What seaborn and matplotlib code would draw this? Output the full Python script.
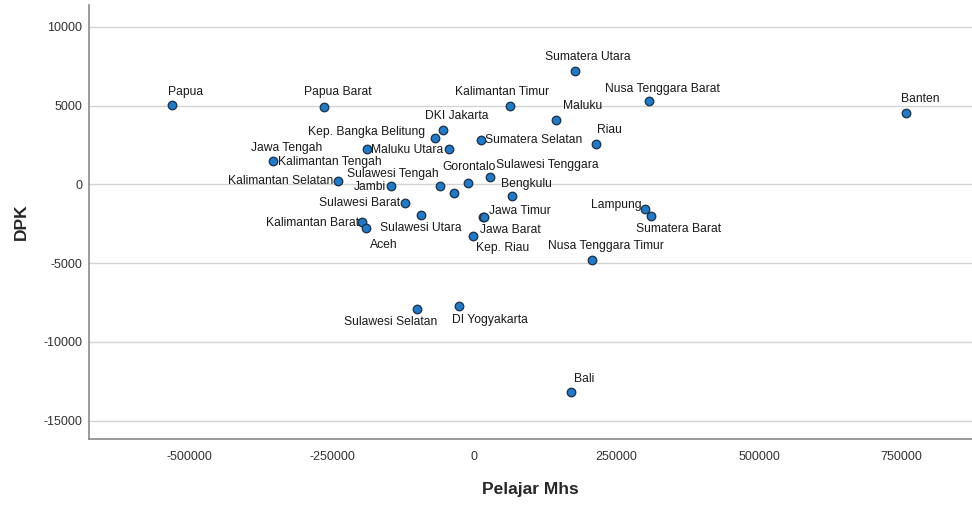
import matplotlib
matplotlib.use("Agg")
import matplotlib.pyplot as plt
import seaborn as sns
import pandas as pd

# Provinces with their Pelajar/Mahasiswa and DPK values
provinces = [
    "Papua", "Papua Barat", "Jawa Tengah", "Kalimantan Selatan", "Kalimantan Tengah",
    "DKI Jakarta", "Kep. Bangka Belitung", "Maluku Utara", "Jambi", "Sulawesi Tengah",
    "Kalimantan Utara", "Gorontalo", "Sulawesi Tenggara", "Bengkulu", "Sumatera Selatan",
    "Sulawesi Barat", "Sulawesi Utara", "Kalimantan Barat", "Aceh", "Jawa Timur",
    "Jawa Barat", "Kep. Riau", "Sumatera Utara", "Kalimantan Timur", "Nusa Tenggara Barat",
    "Maluku", "Riau", "Lampung", "Sumatera Barat", "Nusa Tenggara Timur",
    "Banten", "Sulawesi Selatan", "DI Yogyakarta", "Bali",
]
pelajar_mhs = [
    -531000, -264800, -353000, -238800, -189000,
    -54400, -69000, -44400, -146800, -60200,
    -35100, -11600, 28400, 65300, 11200,
    -121200, -94100, -197200, -190700, 15800,
    17000, -1800, 176800, 63200, 306800,
    143500, 213200, 300300, 310300, 207200,
    757500, -100100, -26900, 169300,
]
dpk = [
    5030, 4905, 1478, 209, 2227,
    3445, 2957, 2240, -89, -108,
    -571, 102, 463, -711, 2792,
    -1206, -1948, -2373, -2792, -2043,
    -2090, -3261, 7189, 4987, 5285,
    4080, 2557, -1567, -2011, -4803,
    4543, -7931, -7703, -13159,
]

# Label placement: (dx, dy) in pixels from the marker, horizontal alignment
label_pos = {
    "Papua": (14, 13, "center"),
    "Papua Barat": (14, 15, "center"),
    "Jawa Tengah": (13, 13, "center"),
    "Kalimantan Selatan": (-5, 0, "right"),
    "Kalimantan Tengah": (-37, -13, "center"),
    "DKI Jakarta": (13, 14, "center"),
    "Kep. Bangka Belitung": (-10, 6, "right"),
    "Maluku Utara": (-6, -1, "right"),
    "Jambi": (-5, -1, "right"),
    "Sulawesi Tengah": (-1, 12, "right"),
    "Gorontalo": (1, 16, "center"),
    "Sulawesi Tenggara": (6, 12, "left"),
    "Bengkulu": (15, 12, "center"),
    "Sumatera Selatan": (4, 0, "left"),
    "Sulawesi Barat": (-5, 0, "right"),
    "Sulawesi Utara": (0, -13, "center"),
    "Kalimantan Barat": (-3, -1, "right"),
    "Aceh": (18, -17, "center"),
    "Jawa Timur": (6, 6, "left"),
    "Jawa Barat": (-4, -13, "left"),
    "Kep. Riau": (3, -12, "left"),
    "Sumatera Utara": (13, 14, "center"),
    "Kalimantan Timur": (-8, 14, "center"),
    "Nusa Tenggara Barat": (13, 12, "center"),
    "Maluku": (7, 14, "left"),
    "Riau": (14, 14, "center"),
    "Lampung": (-4, 4, "right"),
    "Sumatera Barat": (28, -13, "center"),
    "Nusa Tenggara Timur": (14, 14, "center"),
    "Banten": (15, 14, "center"),
    "Sulawesi Selatan": (-27, -13, "center"),
    "DI Yogyakarta": (31, -14, "center"),
    "Bali": (13, 13, "center"),
}

y_ticks = [10000, 5000, 0, -5000, -10000, -15000]
x_ticks = [-500000, -250000, 0, 250000, 500000, 750000]

df = pd.DataFrame({"Provinsi": provinces, "Pelajar Mhs": pelajar_mhs, "DPK": dpk})

sns.set_style("white")
plt.rcParams["font.family"] = ["Liberation Sans", "DejaVu Sans"]

fig = plt.figure(figsize=(9.72, 5.05), dpi=100)
ax = fig.add_axes([89 / 972, 1 - 439 / 505, (972 - 89) / 972, (439 - 5) / 505])

sns.scatterplot(
    data=df, x="Pelajar Mhs", y="DPK", ax=ax,
    s=38, color="#2279c4", edgecolor="#1b2f4a", linewidth=0.9, zorder=3,
)

for name, xv, yv in zip(provinces, pelajar_mhs, dpk):
    if name not in label_pos:
        continue
    dx, dy, ha = label_pos[name]
    ax.annotate(
        name, (xv, yv), xytext=(dx, dy), textcoords="offset pixels",
        ha=ha, va="center", fontsize=8.7, color="#1a1a1a", zorder=4,
    )

ax.set_xlim(-676600, 873900)
ax.set_ylim(-16160, 11377)
ax.set_xticks(x_ticks)
ax.set_yticks(y_ticks)
ax.set_xticklabels([str(v) for v in x_ticks])
ax.set_yticklabels([str(v) for v in y_ticks])
ax.tick_params(axis="both", length=0, labelsize=9, colors="#333333")
ax.tick_params(axis="x", pad=9)
ax.tick_params(axis="y", pad=5)

ax.yaxis.grid(True, color="#d4d4d4", linewidth=1.0)
ax.xaxis.grid(False)
ax.set_axisbelow(True)

for side in ("top", "right"):
    ax.spines[side].set_visible(False)
for side in ("left", "bottom"):
    ax.spines[side].set_color("#8a8a8a")
    ax.spines[side].set_linewidth(1.2)

ax.set_xlabel("Pelajar Mhs", fontsize=12.5, fontweight="bold", labelpad=13)
ax.set_ylabel("DPK", fontsize=12.5, fontweight="bold", labelpad=10)

fig.savefig("out.png", dpi=100, facecolor="white")
